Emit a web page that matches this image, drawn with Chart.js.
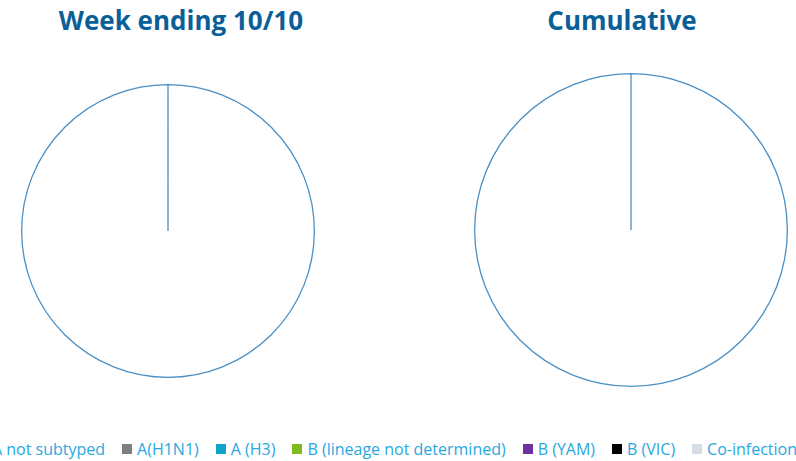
<!DOCTYPE html>
<html>
<head>
<meta charset="utf-8">
<script src="https://cdn.jsdelivr.net/npm/chart.js@4.4.1/dist/chart.umd.min.js"></script>
<style>
  html, body { margin: 0; padding: 0; background: #fff; }
  body { width: 796px; height: 461px; position: relative; overflow: hidden; font-family: "Open Sans", sans-serif; }
  .title { position: absolute; top: 2px; width: 400px; text-align: center; font-size: 26px; font-weight: 700; color: #0a5f98; }
  canvas { position: absolute; }
  #legend { position: absolute; left: -63px; width: 900px; top: 438px; display: flex; justify-content: center; align-items: center; font-size: 16px; color: #2aa8e0; white-space: nowrap; }
  .item { display: flex; align-items: center; margin: 0 8.5px; }
  .box { width: 10px; height: 10px; margin-right: 5px; }
</style>
</head>
<body>
<div class="title" style="left:-19px">Week ending 10/10</div>
<div class="title" style="left:422px">Cumulative</div>
<canvas id="weekChart" width="294" height="294" style="left:21px;top:84px"></canvas>
<canvas id="cumChart" width="314" height="314" style="left:474px;top:73px"></canvas>
<div id="legend"></div>
<script>
// --- Data ---
const labels = ['A not subtyped', 'A(H1N1)', 'A (H3)', 'B (lineage not determined)', 'B (YAM)', 'B (VIC)', 'Co-infection'];
const colours = ['#ffffff', '#7f7f7f', '#0fa5c9', '#7dbb1e', '#7030a0', '#000000', '#d6dce4'];
const weekValues = [1, 0, 0, 0, 0, 0, 0];
const cumulativeValues = [1, 0, 0, 0, 0, 0, 0];

const BORDER = '#4a8fc4';

function makePie(id, values) {
    const ctx = document.getElementById(id).getContext('2d');
    return new Chart(ctx, {
        type: 'pie',
        data: {
            labels: labels,
            datasets: [{
                data: values,
                backgroundColor: colours,
                borderColor: BORDER,
                borderWidth: 1.3
            }]
        },
        options: {
            responsive: false,
            animation: false,
            devicePixelRatio: 1,
            layout: { padding: 0 },
            plugins: {
                legend: { display: false },
                tooltip: { enabled: false }
            }
        }
    });
}

makePie('weekChart', weekValues);
makePie('cumChart', cumulativeValues);

// shared legend below both pies
const legend = document.getElementById('legend');
labels.forEach((name, i) => {
    const item = document.createElement('div');
    item.className = 'item';
    item.innerHTML = `<span class="box" style="background:${colours[i]}"></span><span>${name}</span>`;
    legend.appendChild(item);
});
</script>
</body>
</html>
